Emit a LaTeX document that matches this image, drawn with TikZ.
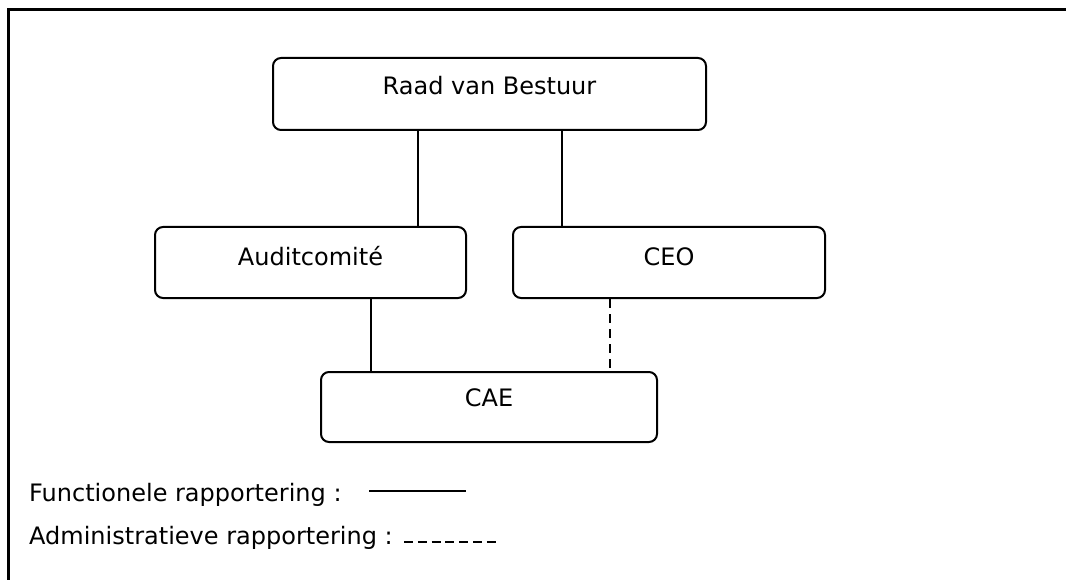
\documentclass[tikz,border=0pt]{standalone}
\usepackage{fontspec}
\setmainfont{DejaVu Sans}
\begin{document}
\begin{tikzpicture}[x=1pt,y=-1pt,
  box/.style={draw=black, line width=2pt, rounded corners=8pt, inner sep=0pt},
  txt/.style={font=\fontsize{24}{28}\selectfont, inner sep=0pt},
  conn/.style={line width=2pt},
  admin/.style={line width=2pt, dash pattern=on 9pt off 6pt}]
\useasboundingbox (0,0) rectangle (1066,580);
% outer frame (top and left)
\draw[line width=2.4pt] (8.5,580) -- (8.5,9.5) -- (1066,9.5);
% boxes
\node[box, minimum width=433pt, minimum height=72pt,
  label={[txt, yshift=8pt]center:Raad van Bestuur}] (raad) at (489.5,94) {};
\node[box, minimum width=311pt, minimum height=71pt,
  label={[txt, yshift=6pt]center:Auditcomité}] (audit) at (310.5,262.5) {};
\node[box, minimum width=312pt, minimum height=71pt,
  label={[txt, yshift=6pt]center:CEO}] (ceo) at (669,262.5) {};
\node[box, minimum width=336pt, minimum height=70pt,
  label={[txt, yshift=9pt]center:CAE}] (cae) at (489,407) {};
% connectors
\draw[conn] (raad.south -| 418,0) -- (audit.north -| 418,0);
\draw[conn] (raad.south -| 562,0) -- (ceo.north -| 562,0);
\draw[conn] (audit.south -| 371,0) -- (cae.north -| 371,0);
\draw[admin] (ceo.south -| 609.5,0) -- (cae.north -| 609.5,0);
% legend
\node[txt, anchor=base west] (lf) at (29,501) {Functionele rapportering :};
\node[txt, anchor=base west] (la) at (29,544) {Administratieve rapportering :};
\coordinate (f1) at (369,490.5);
\coordinate (f2) at (466,490.5);
\coordinate (a1) at (404,542);
\coordinate (a2) at (496,542);
\draw[line width=2pt] (f1) -- (f2);
\draw[line width=1.6pt, dash pattern=on 9pt off 4.8pt] (a1) -- (a2);
\end{tikzpicture}
\end{document}
